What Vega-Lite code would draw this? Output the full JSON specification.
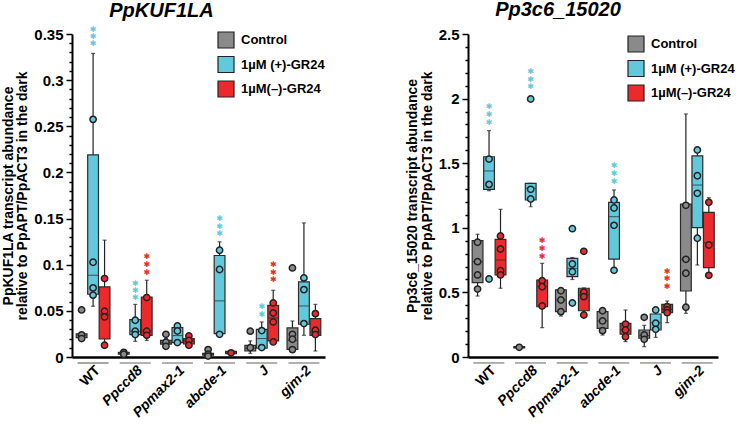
{
  "$schema": "https://vega.github.io/schema/vega-lite/v6.json",
  "padding": {"left": 1, "top": 0, "right": 0, "bottom": 0},
  "config": {"view": {"stroke": null}, "font": "Liberation Sans"},
  "datasets": {
    "groups": [
      {"genotype": "WT"}, {"genotype": "Ppccd8"}, {"genotype": "Ppmax2-1"},
      {"genotype": "abcde-1"}, {"genotype": "J"}, {"genotype": "gjm-2"}
    ],
    "boxes": [
      {"gene": "PpKUF1LA", "genotype": "WT", "treatment": "Control", "lo": 0.019, "q1": 0.021, "med": 0.023, "q3": 0.025, "hi": 0.026},
      {"gene": "PpKUF1LA", "genotype": "WT", "treatment": "1µM (+)-GR24", "lo": 0.055, "q1": 0.068, "med": 0.0886, "q3": 0.219, "hi": 0.329},
      {"gene": "PpKUF1LA", "genotype": "WT", "treatment": "1µM(–)-GR24", "lo": 0.013, "q1": 0.0195, "med": 0.0463, "q3": 0.076, "hi": 0.1266},
      {"gene": "PpKUF1LA", "genotype": "Ppccd8", "treatment": "Control", "lo": 0.002, "q1": 0.003, "med": 0.004, "q3": 0.005, "hi": 0.007},
      {"gene": "PpKUF1LA", "genotype": "Ppccd8", "treatment": "1µM (+)-GR24", "lo": 0.017, "q1": 0.0243, "med": 0.0279, "q3": 0.0405, "hi": 0.057},
      {"gene": "PpKUF1LA", "genotype": "Ppccd8", "treatment": "1µM(–)-GR24", "lo": 0.018, "q1": 0.0235, "med": 0.0282, "q3": 0.065, "hi": 0.0832},
      {"gene": "PpKUF1LA", "genotype": "Ppmax2-1", "treatment": "Control", "lo": 0.012, "q1": 0.014, "med": 0.016, "q3": 0.018, "hi": 0.02},
      {"gene": "PpKUF1LA", "genotype": "Ppmax2-1", "treatment": "1µM (+)-GR24", "lo": 0.015, "q1": 0.0156, "med": 0.0232, "q3": 0.0319, "hi": 0.034},
      {"gene": "PpKUF1LA", "genotype": "Ppmax2-1", "treatment": "1µM(–)-GR24", "lo": 0.012, "q1": 0.0141, "med": 0.0174, "q3": 0.02, "hi": 0.023},
      {"gene": "PpKUF1LA", "genotype": "abcde-1", "treatment": "Control", "lo": 0.001, "q1": 0.002, "med": 0.003, "q3": 0.004, "hi": 0.0055},
      {"gene": "PpKUF1LA", "genotype": "abcde-1", "treatment": "1µM (+)-GR24", "lo": 0.025, "q1": 0.0254, "med": 0.0608, "q3": 0.11, "hi": 0.1248},
      {"gene": "PpKUF1LA", "genotype": "abcde-1", "treatment": "1µM(–)-GR24", "lo": 0.003, "q1": 0.0035, "med": 0.0045, "q3": 0.006, "hi": 0.0065},
      {"gene": "PpKUF1LA", "genotype": "J", "treatment": "Control", "lo": 0.004, "q1": 0.0065, "med": 0.0095, "q3": 0.0127, "hi": 0.0174},
      {"gene": "PpKUF1LA", "genotype": "J", "treatment": "1µM (+)-GR24", "lo": 0.009, "q1": 0.0095, "med": 0.02, "q3": 0.03, "hi": 0.038},
      {"gene": "PpKUF1LA", "genotype": "J", "treatment": "1µM(–)-GR24", "lo": 0.0163, "q1": 0.0174, "med": 0.0423, "q3": 0.056, "hi": 0.0723},
      {"gene": "PpKUF1LA", "genotype": "gjm-2", "treatment": "Control", "lo": 0.0054, "q1": 0.0083, "med": 0.018, "q3": 0.0315, "hi": 0.039},
      {"gene": "PpKUF1LA", "genotype": "gjm-2", "treatment": "1µM (+)-GR24", "lo": 0.0235, "q1": 0.0355, "med": 0.0553, "q3": 0.0814, "hi": 0.1453},
      {"gene": "PpKUF1LA", "genotype": "gjm-2", "treatment": "1µM(–)-GR24", "lo": 0.0065, "q1": 0.0235, "med": 0.027, "q3": 0.0416, "hi": 0.057},
      {"gene": "Pp3c6_15020", "genotype": "WT", "treatment": "Control", "lo": 0.472, "q1": 0.575, "med": 0.738, "q3": 0.9, "hi": 0.95},
      {"gene": "Pp3c6_15020", "genotype": "WT", "treatment": "1µM (+)-GR24", "lo": 1.287, "q1": 1.298, "med": 1.44, "q3": 1.55, "hi": 1.752},
      {"gene": "Pp3c6_15020", "genotype": "WT", "treatment": "1µM(–)-GR24", "lo": 0.532, "q1": 0.635, "med": 0.751, "q3": 0.911, "hi": 1.143},
      {"gene": "Pp3c6_15020", "genotype": "Ppccd8", "treatment": "Control", "lo": 0.065, "q1": 0.07, "med": 0.075, "q3": 0.08, "hi": 0.085},
      {"gene": "Pp3c6_15020", "genotype": "Ppccd8", "treatment": "1µM (+)-GR24", "lo": 1.163, "q1": 1.215, "med": 1.306, "q3": 1.344, "hi": 1.344},
      {"gene": "Pp3c6_15020", "genotype": "Ppccd8", "treatment": "1µM(–)-GR24", "lo": 0.227, "q1": 0.389, "med": 0.544, "q3": 0.596, "hi": 0.725},
      {"gene": "Pp3c6_15020", "genotype": "Ppmax2-1", "treatment": "Control", "lo": 0.317, "q1": 0.351, "med": 0.441, "q3": 0.519, "hi": 0.52},
      {"gene": "Pp3c6_15020", "genotype": "Ppmax2-1", "treatment": "1µM (+)-GR24", "lo": 0.6, "q1": 0.622, "med": 0.686, "q3": 0.764, "hi": 0.77},
      {"gene": "Pp3c6_15020", "genotype": "Ppmax2-1", "treatment": "1µM(–)-GR24", "lo": 0.325, "q1": 0.358, "med": 0.48, "q3": 0.532, "hi": 0.535},
      {"gene": "Pp3c6_15020", "genotype": "abcde-1", "treatment": "Control", "lo": 0.17, "q1": 0.222, "med": 0.28, "q3": 0.351, "hi": 0.37},
      {"gene": "Pp3c6_15020", "genotype": "abcde-1", "treatment": "1µM (+)-GR24", "lo": 0.66, "q1": 0.758, "med": 1.086, "q3": 1.197, "hi": 1.293},
      {"gene": "Pp3c6_15020", "genotype": "abcde-1", "treatment": "1µM(–)-GR24", "lo": 0.119, "q1": 0.176, "med": 0.21, "q3": 0.261, "hi": 0.364},
      {"gene": "Pp3c6_15020", "genotype": "J", "treatment": "Control", "lo": 0.08, "q1": 0.145, "med": 0.165, "q3": 0.209, "hi": 0.245},
      {"gene": "Pp3c6_15020", "genotype": "J", "treatment": "1µM (+)-GR24", "lo": 0.152, "q1": 0.209, "med": 0.266, "q3": 0.333, "hi": 0.369},
      {"gene": "Pp3c6_15020", "genotype": "J", "treatment": "1µM(–)-GR24", "lo": 0.266, "q1": 0.343, "med": 0.369, "q3": 0.408, "hi": 0.433},
      {"gene": "Pp3c6_15020", "genotype": "gjm-2", "treatment": "Control", "lo": 0.338, "q1": 0.511, "med": 0.756, "q3": 1.184, "hi": 1.881},
      {"gene": "Pp3c6_15020", "genotype": "gjm-2", "treatment": "1µM (+)-GR24", "lo": 0.712, "q1": 1.001, "med": 1.331, "q3": 1.556, "hi": 1.6},
      {"gene": "Pp3c6_15020", "genotype": "gjm-2", "treatment": "1µM(–)-GR24", "lo": 0.63, "q1": 0.691, "med": 0.885, "q3": 1.12, "hi": 1.233}
    ],
    "points": [
      {"gene": "PpKUF1LA", "genotype": "WT", "treatment": "Control", "v": 0.051},
      {"gene": "PpKUF1LA", "genotype": "WT", "treatment": "Control", "v": 0.024},
      {"gene": "PpKUF1LA", "genotype": "WT", "treatment": "Control", "v": 0.02},
      {"gene": "PpKUF1LA", "genotype": "WT", "treatment": "1µM (+)-GR24", "v": 0.2575},
      {"gene": "PpKUF1LA", "genotype": "WT", "treatment": "1µM (+)-GR24", "v": 0.1027},
      {"gene": "PpKUF1LA", "genotype": "WT", "treatment": "1µM (+)-GR24", "v": 0.0749},
      {"gene": "PpKUF1LA", "genotype": "WT", "treatment": "1µM (+)-GR24", "v": 0.067},
      {"gene": "PpKUF1LA", "genotype": "WT", "treatment": "1µM(–)-GR24", "v": 0.085},
      {"gene": "PpKUF1LA", "genotype": "WT", "treatment": "1µM(–)-GR24", "v": 0.0496},
      {"gene": "PpKUF1LA", "genotype": "WT", "treatment": "1µM(–)-GR24", "v": 0.0434},
      {"gene": "PpKUF1LA", "genotype": "WT", "treatment": "1µM(–)-GR24", "v": 0.0127},
      {"gene": "PpKUF1LA", "genotype": "Ppccd8", "treatment": "Control", "v": 0.005},
      {"gene": "PpKUF1LA", "genotype": "Ppccd8", "treatment": "Control", "v": 0.003},
      {"gene": "PpKUF1LA", "genotype": "Ppccd8", "treatment": "1µM (+)-GR24", "v": 0.0398},
      {"gene": "PpKUF1LA", "genotype": "Ppccd8", "treatment": "1µM (+)-GR24", "v": 0.028},
      {"gene": "PpKUF1LA", "genotype": "Ppccd8", "treatment": "1µM (+)-GR24", "v": 0.0243},
      {"gene": "PpKUF1LA", "genotype": "Ppccd8", "treatment": "1µM(–)-GR24", "v": 0.0644},
      {"gene": "PpKUF1LA", "genotype": "Ppccd8", "treatment": "1µM(–)-GR24", "v": 0.028},
      {"gene": "PpKUF1LA", "genotype": "Ppccd8", "treatment": "1µM(–)-GR24", "v": 0.0235},
      {"gene": "PpKUF1LA", "genotype": "Ppmax2-1", "treatment": "Control", "v": 0.0246},
      {"gene": "PpKUF1LA", "genotype": "Ppmax2-1", "treatment": "Control", "v": 0.016},
      {"gene": "PpKUF1LA", "genotype": "Ppmax2-1", "treatment": "Control", "v": 0.0116},
      {"gene": "PpKUF1LA", "genotype": "Ppmax2-1", "treatment": "1µM (+)-GR24", "v": 0.0336},
      {"gene": "PpKUF1LA", "genotype": "Ppmax2-1", "treatment": "1µM (+)-GR24", "v": 0.0282},
      {"gene": "PpKUF1LA", "genotype": "Ppmax2-1", "treatment": "1µM (+)-GR24", "v": 0.0156},
      {"gene": "PpKUF1LA", "genotype": "Ppmax2-1", "treatment": "1µM(–)-GR24", "v": 0.0228},
      {"gene": "PpKUF1LA", "genotype": "Ppmax2-1", "treatment": "1µM(–)-GR24", "v": 0.018},
      {"gene": "PpKUF1LA", "genotype": "Ppmax2-1", "treatment": "1µM(–)-GR24", "v": 0.0127},
      {"gene": "PpKUF1LA", "genotype": "abcde-1", "treatment": "Control", "v": 0.008},
      {"gene": "PpKUF1LA", "genotype": "abcde-1", "treatment": "Control", "v": 0.003},
      {"gene": "PpKUF1LA", "genotype": "abcde-1", "treatment": "Control", "v": 0.001},
      {"gene": "PpKUF1LA", "genotype": "abcde-1", "treatment": "1µM (+)-GR24", "v": 0.1157},
      {"gene": "PpKUF1LA", "genotype": "abcde-1", "treatment": "1µM (+)-GR24", "v": 0.0948},
      {"gene": "PpKUF1LA", "genotype": "abcde-1", "treatment": "1µM (+)-GR24", "v": 0.0246},
      {"gene": "PpKUF1LA", "genotype": "abcde-1", "treatment": "1µM(–)-GR24", "v": 0.0045},
      {"gene": "PpKUF1LA", "genotype": "J", "treatment": "Control", "v": 0.028},
      {"gene": "PpKUF1LA", "genotype": "J", "treatment": "Control", "v": 0.01},
      {"gene": "PpKUF1LA", "genotype": "J", "treatment": "1µM (+)-GR24", "v": 0.0286},
      {"gene": "PpKUF1LA", "genotype": "J", "treatment": "1µM (+)-GR24", "v": 0.0102},
      {"gene": "PpKUF1LA", "genotype": "J", "treatment": "1µM(–)-GR24", "v": 0.0586},
      {"gene": "PpKUF1LA", "genotype": "J", "treatment": "1µM(–)-GR24", "v": 0.0477},
      {"gene": "PpKUF1LA", "genotype": "J", "treatment": "1µM(–)-GR24", "v": 0.038},
      {"gene": "PpKUF1LA", "genotype": "J", "treatment": "1µM(–)-GR24", "v": 0.0163},
      {"gene": "PpKUF1LA", "genotype": "gjm-2", "treatment": "Control", "v": 0.0965},
      {"gene": "PpKUF1LA", "genotype": "gjm-2", "treatment": "Control", "v": 0.0246},
      {"gene": "PpKUF1LA", "genotype": "gjm-2", "treatment": "Control", "v": 0.0192},
      {"gene": "PpKUF1LA", "genotype": "gjm-2", "treatment": "Control", "v": 0.008},
      {"gene": "PpKUF1LA", "genotype": "gjm-2", "treatment": "1µM (+)-GR24", "v": 0.0857},
      {"gene": "PpKUF1LA", "genotype": "gjm-2", "treatment": "1µM (+)-GR24", "v": 0.073},
      {"gene": "PpKUF1LA", "genotype": "gjm-2", "treatment": "1µM (+)-GR24", "v": 0.0362},
      {"gene": "PpKUF1LA", "genotype": "gjm-2", "treatment": "1µM(–)-GR24", "v": 0.047},
      {"gene": "PpKUF1LA", "genotype": "gjm-2", "treatment": "1µM(–)-GR24", "v": 0.029},
      {"gene": "PpKUF1LA", "genotype": "gjm-2", "treatment": "1µM(–)-GR24", "v": 0.0243},
      {"gene": "Pp3c6_15020", "genotype": "WT", "treatment": "Control", "v": 0.888},
      {"gene": "Pp3c6_15020", "genotype": "WT", "treatment": "Control", "v": 0.738},
      {"gene": "Pp3c6_15020", "genotype": "WT", "treatment": "Control", "v": 0.635},
      {"gene": "Pp3c6_15020", "genotype": "WT", "treatment": "Control", "v": 0.526},
      {"gene": "Pp3c6_15020", "genotype": "WT", "treatment": "1µM (+)-GR24", "v": 1.532},
      {"gene": "Pp3c6_15020", "genotype": "WT", "treatment": "1µM (+)-GR24", "v": 1.336},
      {"gene": "Pp3c6_15020", "genotype": "WT", "treatment": "1µM (+)-GR24", "v": 0.604},
      {"gene": "Pp3c6_15020", "genotype": "WT", "treatment": "1µM(–)-GR24", "v": 0.937},
      {"gene": "Pp3c6_15020", "genotype": "WT", "treatment": "1µM(–)-GR24", "v": 0.836},
      {"gene": "Pp3c6_15020", "genotype": "WT", "treatment": "1µM(–)-GR24", "v": 0.668},
      {"gene": "Pp3c6_15020", "genotype": "WT", "treatment": "1µM(–)-GR24", "v": 0.635},
      {"gene": "Pp3c6_15020", "genotype": "Ppccd8", "treatment": "Control", "v": 0.075},
      {"gene": "Pp3c6_15020", "genotype": "Ppccd8", "treatment": "1µM (+)-GR24", "v": 1.997},
      {"gene": "Pp3c6_15020", "genotype": "Ppccd8", "treatment": "1µM (+)-GR24", "v": 1.298},
      {"gene": "Pp3c6_15020", "genotype": "Ppccd8", "treatment": "1µM (+)-GR24", "v": 1.223},
      {"gene": "Pp3c6_15020", "genotype": "Ppccd8", "treatment": "1µM(–)-GR24", "v": 0.591},
      {"gene": "Pp3c6_15020", "genotype": "Ppccd8", "treatment": "1µM(–)-GR24", "v": 0.544},
      {"gene": "Pp3c6_15020", "genotype": "Ppccd8", "treatment": "1µM(–)-GR24", "v": 0.395},
      {"gene": "Pp3c6_15020", "genotype": "Ppmax2-1", "treatment": "Control", "v": 0.513},
      {"gene": "Pp3c6_15020", "genotype": "Ppmax2-1", "treatment": "Control", "v": 0.441},
      {"gene": "Pp3c6_15020", "genotype": "Ppmax2-1", "treatment": "Control", "v": 0.351},
      {"gene": "Pp3c6_15020", "genotype": "Ppmax2-1", "treatment": "1µM (+)-GR24", "v": 0.993},
      {"gene": "Pp3c6_15020", "genotype": "Ppmax2-1", "treatment": "1µM (+)-GR24", "v": 0.72},
      {"gene": "Pp3c6_15020", "genotype": "Ppmax2-1", "treatment": "1µM (+)-GR24", "v": 0.66},
      {"gene": "Pp3c6_15020", "genotype": "Ppmax2-1", "treatment": "1µM (+)-GR24", "v": 0.418},
      {"gene": "Pp3c6_15020", "genotype": "Ppmax2-1", "treatment": "1µM(–)-GR24", "v": 0.818},
      {"gene": "Pp3c6_15020", "genotype": "Ppmax2-1", "treatment": "1µM(–)-GR24", "v": 0.501},
      {"gene": "Pp3c6_15020", "genotype": "Ppmax2-1", "treatment": "1µM(–)-GR24", "v": 0.467},
      {"gene": "Pp3c6_15020", "genotype": "Ppmax2-1", "treatment": "1µM(–)-GR24", "v": 0.325},
      {"gene": "Pp3c6_15020", "genotype": "abcde-1", "treatment": "Control", "v": 0.358},
      {"gene": "Pp3c6_15020", "genotype": "abcde-1", "treatment": "Control", "v": 0.279},
      {"gene": "Pp3c6_15020", "genotype": "abcde-1", "treatment": "Control", "v": 0.204},
      {"gene": "Pp3c6_15020", "genotype": "abcde-1", "treatment": "1µM (+)-GR24", "v": 1.215},
      {"gene": "Pp3c6_15020", "genotype": "abcde-1", "treatment": "1µM (+)-GR24", "v": 1.153},
      {"gene": "Pp3c6_15020", "genotype": "abcde-1", "treatment": "1µM (+)-GR24", "v": 1.019},
      {"gene": "Pp3c6_15020", "genotype": "abcde-1", "treatment": "1µM (+)-GR24", "v": 0.671},
      {"gene": "Pp3c6_15020", "genotype": "abcde-1", "treatment": "1µM(–)-GR24", "v": 0.255},
      {"gene": "Pp3c6_15020", "genotype": "abcde-1", "treatment": "1µM(–)-GR24", "v": 0.209},
      {"gene": "Pp3c6_15020", "genotype": "abcde-1", "treatment": "1µM(–)-GR24", "v": 0.157},
      {"gene": "Pp3c6_15020", "genotype": "J", "treatment": "Control", "v": 0.307},
      {"gene": "Pp3c6_15020", "genotype": "J", "treatment": "Control", "v": 0.17},
      {"gene": "Pp3c6_15020", "genotype": "J", "treatment": "Control", "v": 0.137},
      {"gene": "Pp3c6_15020", "genotype": "J", "treatment": "1µM (+)-GR24", "v": 0.364},
      {"gene": "Pp3c6_15020", "genotype": "J", "treatment": "1µM (+)-GR24", "v": 0.261},
      {"gene": "Pp3c6_15020", "genotype": "J", "treatment": "1µM (+)-GR24", "v": 0.214},
      {"gene": "Pp3c6_15020", "genotype": "J", "treatment": "1µM(–)-GR24", "v": 0.39},
      {"gene": "Pp3c6_15020", "genotype": "J", "treatment": "1µM(–)-GR24", "v": 0.364},
      {"gene": "Pp3c6_15020", "genotype": "J", "treatment": "1µM(–)-GR24", "v": 0.343},
      {"gene": "Pp3c6_15020", "genotype": "gjm-2", "treatment": "Control", "v": 1.174},
      {"gene": "Pp3c6_15020", "genotype": "gjm-2", "treatment": "Control", "v": 0.756},
      {"gene": "Pp3c6_15020", "genotype": "gjm-2", "treatment": "Control", "v": 0.648},
      {"gene": "Pp3c6_15020", "genotype": "gjm-2", "treatment": "Control", "v": 0.385},
      {"gene": "Pp3c6_15020", "genotype": "gjm-2", "treatment": "1µM (+)-GR24", "v": 1.602},
      {"gene": "Pp3c6_15020", "genotype": "gjm-2", "treatment": "1µM (+)-GR24", "v": 1.403},
      {"gene": "Pp3c6_15020", "genotype": "gjm-2", "treatment": "1µM (+)-GR24", "v": 1.267},
      {"gene": "Pp3c6_15020", "genotype": "gjm-2", "treatment": "1µM (+)-GR24", "v": 0.919},
      {"gene": "Pp3c6_15020", "genotype": "gjm-2", "treatment": "1µM(–)-GR24", "v": 1.197},
      {"gene": "Pp3c6_15020", "genotype": "gjm-2", "treatment": "1µM(–)-GR24", "v": 0.867},
      {"gene": "Pp3c6_15020", "genotype": "gjm-2", "treatment": "1µM(–)-GR24", "v": 0.632}
    ],
    "stars": [
      {"gene": "PpKUF1LA", "genotype": "WT", "treatment": "1µM (+)-GR24", "v": 0.3543},
      {"gene": "PpKUF1LA", "genotype": "WT", "treatment": "1µM (+)-GR24", "v": 0.3464},
      {"gene": "PpKUF1LA", "genotype": "WT", "treatment": "1µM (+)-GR24", "v": 0.3388},
      {"gene": "PpKUF1LA", "genotype": "Ppccd8", "treatment": "1µM (+)-GR24", "v": 0.0789},
      {"gene": "PpKUF1LA", "genotype": "Ppccd8", "treatment": "1µM (+)-GR24", "v": 0.0713},
      {"gene": "PpKUF1LA", "genotype": "Ppccd8", "treatment": "1µM (+)-GR24", "v": 0.0637},
      {"gene": "PpKUF1LA", "genotype": "Ppccd8", "treatment": "1µM(–)-GR24", "v": 0.1081},
      {"gene": "PpKUF1LA", "genotype": "Ppccd8", "treatment": "1µM(–)-GR24", "v": 0.0998},
      {"gene": "PpKUF1LA", "genotype": "Ppccd8", "treatment": "1µM(–)-GR24", "v": 0.0911},
      {"gene": "PpKUF1LA", "genotype": "abcde-1", "treatment": "1µM (+)-GR24", "v": 0.149},
      {"gene": "PpKUF1LA", "genotype": "abcde-1", "treatment": "1µM (+)-GR24", "v": 0.141},
      {"gene": "PpKUF1LA", "genotype": "abcde-1", "treatment": "1µM (+)-GR24", "v": 0.133},
      {"gene": "PpKUF1LA", "genotype": "J", "treatment": "1µM (+)-GR24", "v": 0.0542},
      {"gene": "PpKUF1LA", "genotype": "J", "treatment": "1µM (+)-GR24", "v": 0.046},
      {"gene": "PpKUF1LA", "genotype": "J", "treatment": "1µM(–)-GR24", "v": 0.0995},
      {"gene": "PpKUF1LA", "genotype": "J", "treatment": "1µM(–)-GR24", "v": 0.0915},
      {"gene": "PpKUF1LA", "genotype": "J", "treatment": "1µM(–)-GR24", "v": 0.0832},
      {"gene": "Pp3c6_15020", "genotype": "WT", "treatment": "1µM (+)-GR24", "v": 1.937},
      {"gene": "Pp3c6_15020", "genotype": "WT", "treatment": "1µM (+)-GR24", "v": 1.873},
      {"gene": "Pp3c6_15020", "genotype": "WT", "treatment": "1µM (+)-GR24", "v": 1.813},
      {"gene": "Pp3c6_15020", "genotype": "Ppccd8", "treatment": "1µM (+)-GR24", "v": 2.208},
      {"gene": "Pp3c6_15020", "genotype": "Ppccd8", "treatment": "1µM (+)-GR24", "v": 2.144},
      {"gene": "Pp3c6_15020", "genotype": "Ppccd8", "treatment": "1µM (+)-GR24", "v": 2.087},
      {"gene": "Pp3c6_15020", "genotype": "Ppccd8", "treatment": "1µM(–)-GR24", "v": 0.9},
      {"gene": "Pp3c6_15020", "genotype": "Ppccd8", "treatment": "1µM(–)-GR24", "v": 0.836},
      {"gene": "Pp3c6_15020", "genotype": "Ppccd8", "treatment": "1µM(–)-GR24", "v": 0.776},
      {"gene": "Pp3c6_15020", "genotype": "abcde-1", "treatment": "1µM (+)-GR24", "v": 1.478},
      {"gene": "Pp3c6_15020", "genotype": "abcde-1", "treatment": "1µM (+)-GR24", "v": 1.416},
      {"gene": "Pp3c6_15020", "genotype": "abcde-1", "treatment": "1µM (+)-GR24", "v": 1.357},
      {"gene": "Pp3c6_15020", "genotype": "J", "treatment": "1µM(–)-GR24", "v": 0.66},
      {"gene": "Pp3c6_15020", "genotype": "J", "treatment": "1µM(–)-GR24", "v": 0.601},
      {"gene": "Pp3c6_15020", "genotype": "J", "treatment": "1µM(–)-GR24", "v": 0.539}
    ]
  },
  "resolve": {"legend": {"fill": "independent"}, "scale": {"fill": "independent"}},
  "spacing": 80,
  "hconcat": [
    {
      "width": 253,
      "height": 323,
      "title": {"text": "PpKUF1LA", "font": "Liberation Sans", "fontSize": 20, "fontWeight": "bold", "fontStyle": "italic", "color": "black", "dx": -37, "offset": 5},
      "encoding": {
        "x": {"field": "genotype", "type": "nominal",
          "scale": {"domain": ["WT", "Ppccd8", "Ppmax2-1", "abcde-1", "J", "gjm-2"], "paddingInner": 0.2, "paddingOuter": 0.1},
          "axis": {"title": null, "ticks": false, "domainColor": "black", "domainWidth": 2.5, "labelAngle": -45, "labelFont": "Liberation Sans", "labelFontWeight": "bold", "labelFontSize": 14, "labelColor": "black", "labelPadding": 6,
            "labelFontStyle": {"condition": {"test": "datum.value == 'WT'", "value": "normal"}, "value": "italic"}}}
      },
      "layer": [
        {
          "data": {"name": "groups"},
          "mark": {"type": "tick", "color": "#555555", "thickness": 1.3},
          "encoding": {
            "y": {"datum": -0.0065, "type": "quantitative",
              "scale": {"domain": [0, 0.35], "nice": false},
              "axis": {"tickCount": 35,
                "labelExpr": "abs(datum.value*20 - round(datum.value*20)) < 0.001 ? format(datum.value, '~g') : ''",
                "tickSize": {"condition": {"test": "abs(datum.value*20 - round(datum.value*20)) < 0.001", "value": 6}, "value": 3},
                "labelOverlap": false, "labelFlush": false,
                "grid": false, "domainColor": "black", "domainWidth": 2, "tickColor": "black", "tickWidth": 1.5,
                "labelFont": "Liberation Sans", "labelFontWeight": "bold", "labelFontSize": 15, "labelColor": "black", "labelPadding": 3,
                "title": ["PpKUF1LA transcript abundance", "relative to PpAPT/PpACT3 in the dark"],
                "titleFont": "Liberation Sans", "titleFontSize": 14, "titleFontWeight": "bold", "titleColor": "black", "titleLineHeight": 14.5, "titlePadding": 4}},
            "size": {"value": 31}
          }
        },
        {
          "data": {"name": "boxes"},
          "transform": [{"filter": "datum.gene == 'PpKUF1LA'"}],
          "layer": [
            {"mark": {"type": "rule", "color": "#222222", "strokeWidth": 1.2},
             "encoding": {"xOffset": {"field": "treatment", "type": "nominal", "scale": {"domain": ["Control", "1µM (+)-GR24", "1µM(–)-GR24"], "paddingInner": 0.06}},
               "y": {"field": "lo", "type": "quantitative"}, "y2": {"field": "hi"}}},
            {"mark": {"type": "tick", "color": "#222222", "thickness": 1.2},
             "encoding": {"xOffset": {"field": "treatment", "type": "nominal"}, "y": {"field": "hi", "type": "quantitative"}, "size": {"value": 4}}},
            {"mark": {"type": "tick", "color": "#222222", "thickness": 1.2},
             "encoding": {"xOffset": {"field": "treatment", "type": "nominal"}, "y": {"field": "lo", "type": "quantitative"}, "size": {"value": 4}}},
            {"mark": {"type": "bar", "stroke": "#2b2b2b", "strokeWidth": 1.2},
             "encoding": {"xOffset": {"field": "treatment", "type": "nominal"},
               "y": {"field": "q1", "type": "quantitative"}, "y2": {"field": "q3"},
               "fill": {"field": "treatment", "type": "nominal",
                 "scale": {"domain": ["Control", "1µM (+)-GR24", "1µM(–)-GR24"], "range": ["#8a8a8a", "#62c8dc", "#ec2a2e"]},
                 "legend": {"title": null, "orient": "none", "legendX": 145, "legendY": -3, "symbolType": "square", "symbolSize": 256, "symbolStrokeColor": "#3a3a3a", "symbolStrokeWidth": 1.2, "labelFont": "Liberation Sans", "labelFontSize": 13, "labelFontWeight": "bold", "labelColor": "black", "labelOffset": 6, "rowPadding": 2.5}}}},
            {"mark": {"type": "tick", "color": "#222222", "thickness": 1},
             "encoding": {"xOffset": {"field": "treatment", "type": "nominal"}, "y": {"field": "med", "type": "quantitative"}, "size": {"value": 10}}}
          ]
        },
        {
          "data": {"name": "points"},
          "transform": [{"filter": "datum.gene == 'PpKUF1LA'"}],
          "mark": {"type": "circle", "stroke": "#222222", "strokeWidth": 1.5, "size": 40, "opacity": 1},
          "encoding": {"xOffset": {"field": "treatment", "type": "nominal"}, "y": {"field": "v", "type": "quantitative"},
            "fill": {"field": "treatment", "type": "nominal"}}
        },
        {
          "data": {"name": "stars"},
          "transform": [{"filter": "datum.gene == 'PpKUF1LA'"}],
          "mark": {"type": "text", "text": "✱", "font": "DejaVu Sans", "fontSize": 8, "baseline": "middle"},
          "encoding": {"xOffset": {"field": "treatment", "type": "nominal"}, "y": {"field": "v", "type": "quantitative"},
            "fill": {"field": "treatment", "type": "nominal"}}
        }
      ]
    },
    {
      "width": 250,
      "height": 323,
      "title": {"text": "Pp3c6_15020", "font": "Liberation Sans", "fontSize": 20, "fontWeight": "bold", "fontStyle": "italic", "color": "black", "dx": -35, "offset": 7},
      "encoding": {
        "x": {"field": "genotype", "type": "nominal",
          "scale": {"domain": ["WT", "Ppccd8", "Ppmax2-1", "abcde-1", "J", "gjm-2"], "paddingInner": 0.2, "paddingOuter": 0.1},
          "axis": {"title": null, "ticks": false, "domainColor": "black", "domainWidth": 2.5, "labelAngle": -45, "labelFont": "Liberation Sans", "labelFontWeight": "bold", "labelFontSize": 14, "labelColor": "black", "labelPadding": 6,
            "labelFontStyle": {"condition": {"test": "datum.value == 'WT'", "value": "normal"}, "value": "italic"}}}
      },
      "layer": [
        {
          "data": {"name": "groups"},
          "mark": {"type": "tick", "color": "#555555", "thickness": 1.3},
          "encoding": {
            "y": {"datum": -0.046, "type": "quantitative",
              "scale": {"domain": [0, 2.5], "nice": false},
              "axis": {"tickCount": 25,
                "labelExpr": "abs(datum.value*2 - round(datum.value*2)) < 0.001 ? format(datum.value, '~g') : ''",
                "tickSize": {"condition": {"test": "abs(datum.value*2 - round(datum.value*2)) < 0.001", "value": 6}, "value": 3},
                "labelOverlap": false, "labelFlush": false,
                "grid": false, "domainColor": "black", "domainWidth": 2, "tickColor": "black", "tickWidth": 1.5,
                "labelFont": "Liberation Sans", "labelFontWeight": "bold", "labelFontSize": 15, "labelColor": "black", "labelPadding": 3,
                "title": ["Pp3c6_15020 transcript abundance", "relative to PpAPT/PpACT3 in the dark"],
                "titleFont": "Liberation Sans", "titleFontSize": 14, "titleFontWeight": "bold", "titleColor": "black", "titleLineHeight": 14.5, "titlePadding": 4}},
            "size": {"value": 31}
          }
        },
        {
          "data": {"name": "boxes"},
          "transform": [{"filter": "datum.gene == 'Pp3c6_15020'"}],
          "layer": [
            {"mark": {"type": "rule", "color": "#222222", "strokeWidth": 1.2},
             "encoding": {"xOffset": {"field": "treatment", "type": "nominal", "scale": {"domain": ["Control", "1µM (+)-GR24", "1µM(–)-GR24"], "paddingInner": 0.06}},
               "y": {"field": "lo", "type": "quantitative"}, "y2": {"field": "hi"}}},
            {"mark": {"type": "tick", "color": "#222222", "thickness": 1.2},
             "encoding": {"xOffset": {"field": "treatment", "type": "nominal"}, "y": {"field": "hi", "type": "quantitative"}, "size": {"value": 4}}},
            {"mark": {"type": "tick", "color": "#222222", "thickness": 1.2},
             "encoding": {"xOffset": {"field": "treatment", "type": "nominal"}, "y": {"field": "lo", "type": "quantitative"}, "size": {"value": 4}}},
            {"mark": {"type": "bar", "stroke": "#2b2b2b", "strokeWidth": 1.2},
             "encoding": {"xOffset": {"field": "treatment", "type": "nominal"},
               "y": {"field": "q1", "type": "quantitative"}, "y2": {"field": "q3"},
               "fill": {"field": "treatment", "type": "nominal",
                 "scale": {"domain": ["Control", "1µM (+)-GR24", "1µM(–)-GR24"], "range": ["#8a8a8a", "#62c8dc", "#ec2a2e"]},
                 "legend": {"title": null, "orient": "none", "legendX": 159, "legendY": 1, "symbolType": "square", "symbolSize": 256, "symbolStrokeColor": "#3a3a3a", "symbolStrokeWidth": 1.2, "labelFont": "Liberation Sans", "labelFontSize": 13, "labelFontWeight": "bold", "labelColor": "black", "labelOffset": 6, "rowPadding": 2.5}}}},
            {"mark": {"type": "tick", "color": "#222222", "thickness": 1},
             "encoding": {"xOffset": {"field": "treatment", "type": "nominal"}, "y": {"field": "med", "type": "quantitative"}, "size": {"value": 10}}}
          ]
        },
        {
          "data": {"name": "points"},
          "transform": [{"filter": "datum.gene == 'Pp3c6_15020'"}],
          "mark": {"type": "circle", "stroke": "#222222", "strokeWidth": 1.5, "size": 40, "opacity": 1},
          "encoding": {"xOffset": {"field": "treatment", "type": "nominal"}, "y": {"field": "v", "type": "quantitative"},
            "fill": {"field": "treatment", "type": "nominal"}}
        },
        {
          "data": {"name": "stars"},
          "transform": [{"filter": "datum.gene == 'Pp3c6_15020'"}],
          "mark": {"type": "text", "text": "✱", "font": "DejaVu Sans", "fontSize": 8, "baseline": "middle"},
          "encoding": {"xOffset": {"field": "treatment", "type": "nominal"}, "y": {"field": "v", "type": "quantitative"},
            "fill": {"field": "treatment", "type": "nominal"}}
        }
      ]
    }
  ]
}
